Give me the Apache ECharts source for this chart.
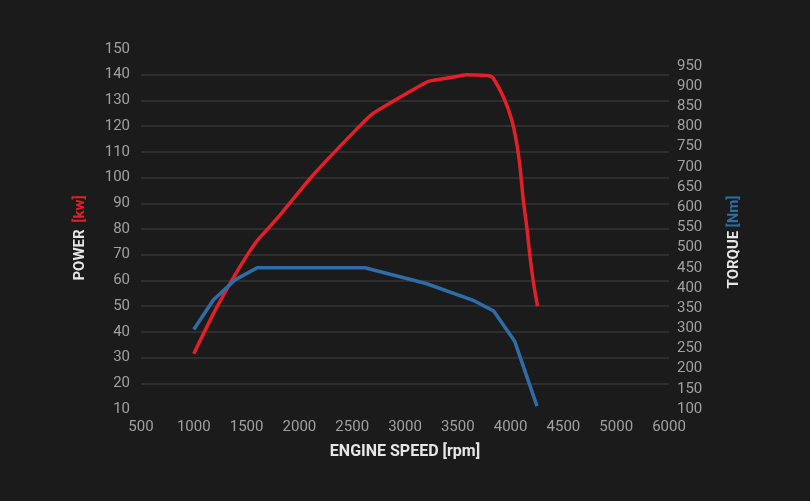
<!DOCTYPE html>
<html>
<head>
<meta charset="utf-8">
<script src="https://cdn.jsdelivr.net/npm/echarts@6/dist/echarts.min.js"></script>
<style>
html,body{margin:0;padding:0;background:#1b1b1b;}
#c{width:810px;height:501px;}
</style>
</head>
<body>
<div id="c"></div>
<script>
// X tick labels (evenly spaced on the original chart)
const xTickLabels = ['500','1000','1500','2000','2500','3000','3500','4000','4500','5000','6000'];
// Power curve [rpm, kW]
const powerRpm = [1000,1185,1374,1516,1601,1690,1816,2130,2570,2700,3070,3230,3450,3580,3740,3805,3836,3931,4011,4058,4089,4120,4153,4184,4222,4255];
const powerKw  = [31.5,47,61,70.5,75.5,79.6,85.4,101,120,125,134,137.5,139,140,139.8,139.5,138.6,131.4,122.4,113.3,104.2,91.3,80.9,69.2,57.6,50];
// Torque curve [rpm, Nm]
const torqueRpm = [1000,1185,1390,1601,2620,3200,3640,3840,4040,4250];
const torqueNm  = [297,370,420,450,450,411,370,343,267,107];

const powerData = powerRpm.map((r,i)=>[r,powerKw[i]]);
const torqueData = torqueRpm.map((r,i)=>[r,torqueNm[i]]);

const FONT = 'Roboto, "Liberation Sans", sans-serif';
const labelColor = '#a0a0a0';

const chart = echarts.init(document.getElementById('c'), null, {renderer:'canvas'});
chart.setOption({
  backgroundColor:'#1b1b1b',
  animation:false,
  grid:[
    {left:141, width:528, top:49, height:360},
    {left:141, width:528, top:66, height:343}
  ],
  xAxis:[
    {type:'value', gridIndex:0, min:500, max:5500, interval:500,
     axisLine:{show:false}, axisTick:{show:false}, splitLine:{show:false},
     axisLabel:{color:labelColor, fontFamily:FONT, fontSize:15, margin:11,
       formatter:v=>xTickLabels[Math.round((v-500)/500)]}},
    {type:'value', gridIndex:1, min:500, max:5500, interval:500, show:false}
  ],
  yAxis:[
    {type:'value', gridIndex:0, min:10, max:150, interval:10, position:'left',
     axisLine:{show:false}, axisTick:{show:false},
     splitLine:{show:true, showMinLine:false, showMaxLine:false, lineStyle:{color:'#363636', width:1.5}},
     axisLabel:{color:labelColor, fontFamily:FONT, fontSize:15, margin:11, padding:[0,0,7,0]}},
    {type:'value', gridIndex:1, min:100, max:950, interval:50, position:'right',
     axisLine:{show:false}, axisTick:{show:false}, splitLine:{show:false},
     axisLabel:{color:labelColor, fontFamily:FONT, fontSize:15, margin:8}}
  ],
  graphic:[
    {type:'text', x:80, y:238, rotation:Math.PI/2,
     style:{text:'{w|POWER}  {r|[kw]}', align:'center', verticalAlign:'middle',
       rich:{w:{fill:'#e6e6e6', fontFamily:FONT, fontWeight:'bold', fontSize:15},
             r:{fill:'#e3202a', fontFamily:FONT, fontWeight:'bold', fontSize:15}}}},
    {type:'text', x:734, y:242, rotation:Math.PI/2,
     style:{text:'{w|TORQUE} {b|[Nm]}', align:'center', verticalAlign:'middle',
       rich:{w:{fill:'#e6e6e6', fontFamily:FONT, fontWeight:'bold', fontSize:15},
             b:{fill:'#2f6da6', fontFamily:FONT, fontWeight:'bold', fontSize:15}}}},
    {type:'text', x:405, y:452,
     style:{text:'ENGINE SPEED [rpm]', align:'center', verticalAlign:'middle',
       fill:'#e6e6e6', fontFamily:FONT, fontWeight:'bold', fontSize:16}}
  ],
  series:[
    {type:'line', xAxisIndex:0, yAxisIndex:0, data:powerData, smooth:0.2,
     symbol:'none', lineStyle:{color:'#e3202a', width:3.5}},
    {type:'line', xAxisIndex:1, yAxisIndex:1, data:torqueData, smooth:false,
     symbol:'none', lineStyle:{color:'#2f6da6', width:3.5}}
  ]
});
</script>
</body>
</html>
